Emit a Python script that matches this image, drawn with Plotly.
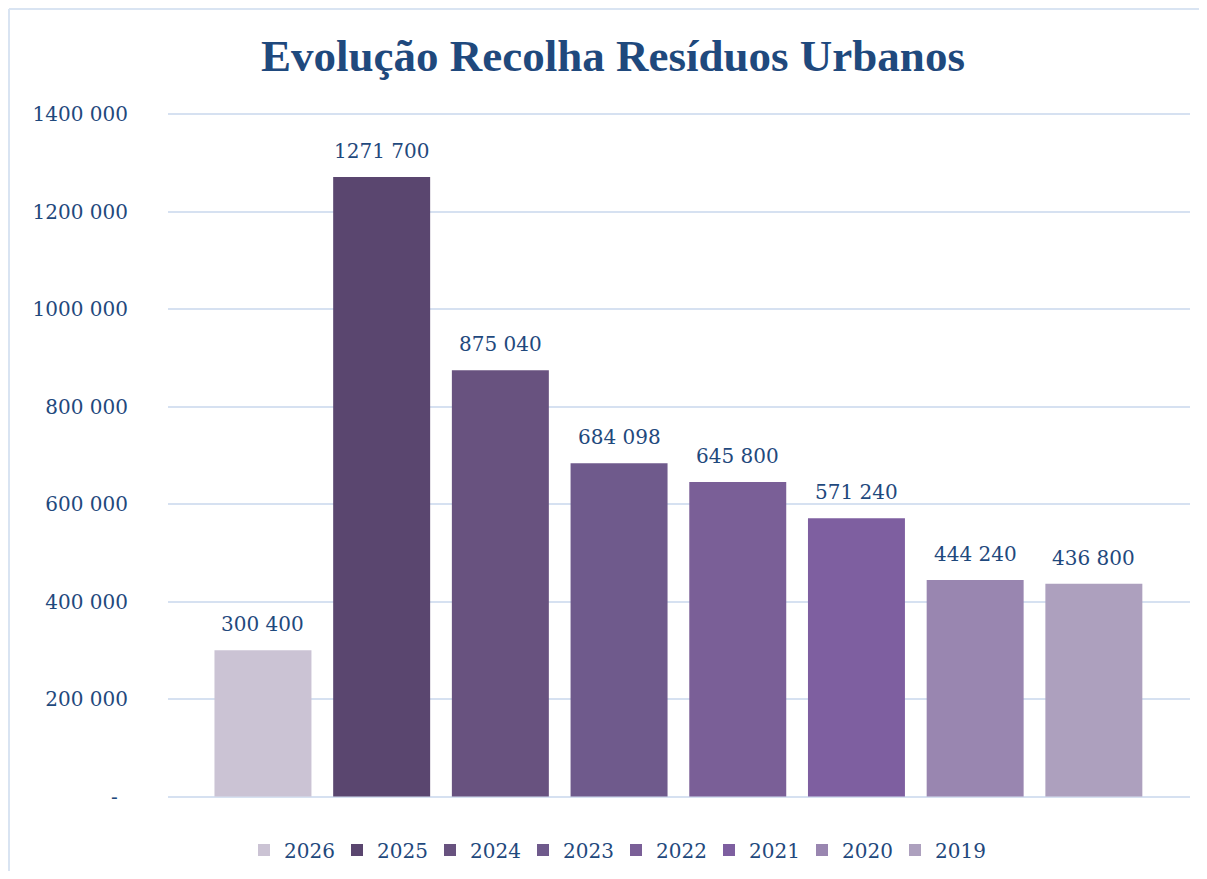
import plotly.graph_objects as go

# Dados: recolha de resíduos urbanos por ano
anos = ["2026", "2025", "2024", "2023", "2022", "2021", "2020", "2019"]
valores = [300400, 1271700, 875040, 684098, 645800, 571240, 444240, 436800]
cores = ["#cbc3d4", "#5a466f", "#68527f", "#6f5a8c", "#7a5f97", "#7e5fa0", "#9986b0", "#ada0be"]

y_ticks = [0, 200000, 400000, 600000, 800000, 1000000, 1200000, 1400000]
y_labels = ["-\u00a0\u2009", "200 000", "400 000", "600 000", "800 000", "1000 000", "1200 000", "1400 000"]

azul = "#1f497d"
fonte = "DejaVu Serif"
moldura = "#d9e4f2"


def fmt(v):
    # formato "### ###" como no Excel
    return f"{v // 1000} {v % 1000:03d}"


fig = go.Figure()
for i, (ano, v, cor) in enumerate(zip(anos, valores, cores)):
    fig.add_trace(go.Bar(
        x=[ano], y=[v], name=ano,
        marker=dict(color=cor, line=dict(width=0)),
        width=0.817,
    ))
    # rótulo de dados acima da barra (índice da categoria)
    fig.add_annotation(
        x=i, y=v, text=fmt(v), showarrow=False,
        yanchor="bottom", yshift=12,
        font=dict(family=fonte, size=20, color=azul),
    )

# a página tem 8px de margem no body
fig.update_layout(
    width=1191, height=863,
    margin=dict(l=160, r=9, t=105, b=73),
    paper_bgcolor="white", plot_bgcolor="white",
    barmode="overlay",
    font=dict(family=fonte, size=20, color=azul),
    title=dict(
        text="<b>Evolução Recolha Resíduos Urbanos</b>",
        font=dict(family="Liberation Serif", size=45, color=azul),
        x=605 / 1191, xanchor="center", xref="container",
        y=1 - 47 / 863, yanchor="middle", yref="container",
    ),
    legend=dict(
        orientation="h", xref="container", yref="container",
        x=608 / 1191, xanchor="center", y=1 - 842 / 863, yanchor="middle",
        entrywidth=48, font=dict(family=fonte, size=20, color=azul),
        itemwidth=30, traceorder="normal",
    ),
    # moldura do gráfico: só o topo e a esquerda ficam visíveis
    shapes=[
        dict(type="line", xref="paper", yref="paper",
             x0=-0.1556, x1=1.2, y0=1.1518, y1=1.1518,
             line=dict(color=moldura, width=2), layer="below"),
        dict(type="line", xref="paper", yref="paper",
             x0=-0.1556, x1=-0.1556, y0=-0.3, y1=1.1518,
             line=dict(color=moldura, width=2), layer="below"),
    ],
)

fig.update_xaxes(
    type="category", categoryorder="array", categoryarray=anos,
    range=[-0.8, 7.81], showticklabels=False, showgrid=False,
    zeroline=False, showline=False, ticks="",
)
fig.update_yaxes(
    range=[-3000, 1403000], tickvals=y_ticks, ticktext=y_labels,
    showgrid=True, gridcolor="#d6e1f1", gridwidth=2,
    zeroline=False, showline=False,
    ticks="outside", ticklen=35, tickcolor="rgba(0,0,0,0)",
    tickfont=dict(family=fonte, size=20, color=azul),
)

fig.write_html("out.html")
